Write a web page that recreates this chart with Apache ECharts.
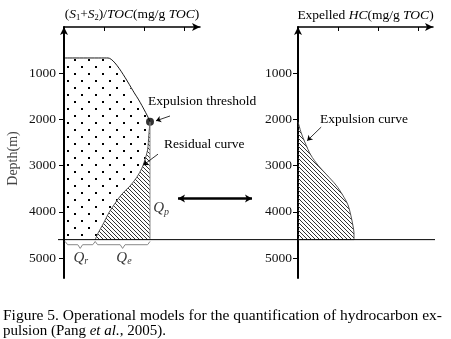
<!DOCTYPE html>
<html>
<head>
<meta charset="utf-8">
<script src="https://cdn.jsdelivr.net/npm/echarts@6/dist/echarts.min.js"></script>
<style>
  html, body { margin: 0; padding: 0; background: #fff; }
  #chart { width: 451px; height: 339px; }
</style>
</head>
<body>
<div id="chart"></div>
<script>
// tick positions
const depthTicks = [1000, 2000, 3000, 4000, 5000];
const hcTicks = [1, 2, 3];
const depthMax = 5430;
const baseDepth = 4600;

// original potential, upper outline (x, depth)
const genX = [0, 1.1, 1.82, 1.98, 2.1, 2.15];
const genDepth = [670, 670, 1510, 1750, 1950, 2050];

// residual curve, from threshold down to base
const resX = [2.15, 2.12, 2.09, 2.02, 1.95, 1.82, 1.65, 1.45, 1.28, 1.12, 0.98, 0.85, 0.78];
const resDepth = [2050, 2340, 2660, 2880, 3050, 3250, 3440, 3610, 3810, 4020, 4260, 4460, 4600];

// expelled hydrocarbon curve (right panel)
const expX = [0, 0.08, 0.18, 0.32, 0.5, 0.72, 0.95, 1.12, 1.25, 1.32, 1.37, 1.4, 1.4];
const expDepth = [2050, 2290, 2510, 2770, 2990, 3200, 3420, 3640, 3850, 4070, 4280, 4460, 4600];

const zip = (xs, ys) => xs.map((x, i) => [x, ys[i]]);
const gen = zip(genX, genDepth);
const res = zip(resX, resDepth);
const exp = zip(expX, expDepth);
const threshold = gen[gen.length - 1];
const edgeX = threshold[0];
const resBottomX = resX[resX.length - 1];

const serif = '"Liberation Serif", "DejaVu Serif", serif';

// fill patterns
function dotPattern() {
  const c = document.createElement('canvas');
  c.width = 14; c.height = 14;
  const g = c.getContext('2d');
  g.fillStyle = '#000';
  g.fillRect(4, 3, 2, 2);
  g.fillRect(11, 10, 2, 2);
  return { image: c, repeat: 'repeat' };
}
function hatchPattern() {
  const s = 8;
  const c = document.createElement('canvas');
  c.width = s; c.height = s;
  const g = c.getContext('2d');
  g.strokeStyle = '#333';
  g.lineWidth = 1;
  for (let k = -s; k <= s; k += 4) {
    g.beginPath();
    g.moveTo(k - 1, -1);
    g.lineTo(k + s + 1, s + 1);
    g.stroke();
  }
  return { image: c, repeat: 'repeat' };
}

function polygon(idx, pts, fill) {
  return {
    type: 'custom', xAxisIndex: idx, yAxisIndex: idx, silent: true, data: [0],
    renderItem: (params, api) => ({
      type: 'polygon',
      shape: { points: pts.map(p => api.coord(p)) },
      style: { fill: fill, stroke: 'none' }
    })
  };
}

function line(idx, data, color, width, smooth) {
  return {
    type: 'line', xAxisIndex: idx, yAxisIndex: idx, data: data, silent: true,
    symbol: 'none', smooth: smooth || false,
    lineStyle: { color: color, width: width }
  };
}

function brace(a, b) {
  const m = (a + b) / 2;
  return [[a, 4640], [a + 0.06, 4710], [m - 0.06, 4710], [m, 4790], [m + 0.06, 4710], [b - 0.06, 4710], [b, 4640]];
}

function qLabel(pos, sub) {
  return {
    value: pos,
    label: {
      show: true, position: 'inside',
      formatter: '{q|Q}{s|' + sub + '}',
      rich: {
        q: { fontFamily: serif, fontStyle: 'italic', fontSize: 15, color: '#000' },
        s: { fontFamily: serif, fontStyle: 'italic', fontSize: 10, color: '#000', padding: [8, 0, 0, 0] }
      }
    }
  };
}

const chart = echarts.init(document.getElementById('chart'), null, { renderer: 'canvas' });

const arrowLine = { color: '#000', width: 0.8 };

const xAxisCommon = {
  type: 'value', position: 'top', min: 0, interval: 1,
  axisLine: { show: true, onZero: false, lineStyle: { color: '#000', width: 1.5 }, symbol: ['none', 'arrow'], symbolSize: [6, 8] },
  axisTick: { show: true, inside: true, length: 4, customValues: hcTicks, lineStyle: { color: '#000' } },
  axisLabel: { show: false },
  splitLine: { show: false },
  nameLocation: 'middle', nameGap: 5,
  nameTextStyle: {
    rich: {
      r: { fontFamily: serif, fontSize: 13.5, color: '#000' },
      i: { fontFamily: serif, fontSize: 13.5, fontStyle: 'italic', color: '#000' },
      b: { fontFamily: serif, fontSize: 8.5, color: '#000', padding: [7, 0, 0, 0] }
    }
  }
};
const yAxisCommon = {
  type: 'value', inverse: true, min: 0, max: depthMax,
  axisLine: { show: true, onZero: false, lineStyle: { color: '#000', width: 2 }, symbol: ['none', 'arrow'], symbolSize: [6, 8] },
  axisTick: { show: true, length: 5, customValues: depthTicks, lineStyle: { color: '#000' } },
  axisLabel: {
    customValues: depthTicks, fontFamily: serif, fontSize: 13.5, color: '#111', margin: 8,
    formatter: v => String(v)
  },
  splitLine: { show: false }
};

chart.setOption({
  animation: false,
  backgroundColor: '#fff',
  grid: [
    { left: 64, top: 27, width: 136, height: 251 },
    { left: 298, top: 27, width: 135, height: 251 },
    { left: 58, top: 27, width: 377, height: 251 }
  ],
  xAxis: [
    Object.assign({}, xAxisCommon, {
      gridIndex: 0, max: 3.4,
      name: '{r|(}{i|S}{b|1}{r|+}{i|S}{b|2}{r|)/}{i|TOC}{r|(mg/g }{i|TOC}{r|)}'
    }),
    Object.assign({}, xAxisCommon, {
      gridIndex: 1, max: 3.375,
      name: '{r|Expelled }{i|HC}{r|(mg/g }{i|TOC}{r|)}'
    }),
    { gridIndex: 2, type: 'value', min: -0.15, max: 9.275, show: false }
  ],
  yAxis: [
    Object.assign({}, yAxisCommon, {
      gridIndex: 0, name: 'Depth(m)', nameLocation: 'middle', nameGap: 44,
      nameTextStyle: { fontFamily: serif, fontSize: 14, color: '#444', padding: [0, 12, 0, 0] }
    }),
    Object.assign({}, yAxisCommon, { gridIndex: 1, axisLabel: Object.assign({}, yAxisCommon.axisLabel, { margin: 6 }) }),
    { gridIndex: 2, type: 'value', inverse: true, min: 0, max: depthMax, show: false }
  ],
  series: [
    // left panel: residual (dotted) and expelled (hatched) areas
    polygon(0, [[0, genDepth[0]]].concat(gen.slice(1), res.slice(1), [[0, baseDepth]]), dotPattern()),
    polygon(0, res.concat([[edgeX, baseDepth]]), hatchPattern()),
    line(0, gen, '#000', 0.9, 0.2),
    line(0, res, '#444', 0.9, 0.3),
    line(0, [threshold, [edgeX, baseDepth]], '#888', 1),
    {
      type: 'scatter', xAxisIndex: 0, yAxisIndex: 0, silent: true,
      data: [threshold], symbolSize: 8, itemStyle: { color: '#000' }
    },
    // braces
    line(0, brace(0.03, resBottomX), '#888', 1),
    line(0, brace(resBottomX, edgeX), '#888', 1),
    {
      type: 'scatter', xAxisIndex: 0, yAxisIndex: 0, silent: true, symbolSize: 0,
      data: [qLabel([0.42, 4990], 'r'), qLabel([1.5, 4990], 'e'), qLabel([2.43, 3920], 'p')]
    },
    // annotation arrows, left panel
    {
      type: 'line', xAxisIndex: 0, yAxisIndex: 0, data: [], silent: true,
      markLine: {
        silent: true, symbol: ['none', 'arrow'], symbolSize: 5, label: { show: false },
        lineStyle: Object.assign({ type: 'solid' }, arrowLine), emphasis: { disabled: true },
        data: [
          [{ coord: [2.65, 1925] }, { coord: [2.3, 2030] }],
          [{ coord: [2.35, 2750] }, { coord: [1.98, 2990] }]
        ]
      }
    },
    // right panel
    polygon(1, [[0, expDepth[0]]].concat(exp, [[0, baseDepth]]), hatchPattern()),
    line(1, exp, '#444', 0.9, 0.3),
    line(1, [[expX[expX.length - 1], baseDepth], [0, baseDepth]], '#888', 1),
    {
      type: 'line', xAxisIndex: 1, yAxisIndex: 1, data: [], silent: true,
      markLine: {
        silent: true, symbol: ['none', 'arrow'], symbolSize: 5, label: { show: false },
        lineStyle: Object.assign({ type: 'solid' }, arrowLine), emphasis: { disabled: true },
        data: [[{ coord: [0.58, 2165] }, { coord: [0.23, 2460] }]]
      }
    },
    // base line and double arrow across both panels
    line(2, [[-0.15, baseDepth], [9.275, baseDepth]], '#000', 1),
    {
      type: 'line', xAxisIndex: 2, yAxisIndex: 2, data: [], silent: true,
      markLine: {
        silent: true, symbol: ['arrow', 'arrow'], symbolSize: [6, 7], label: { show: false },
        lineStyle: { type: 'solid', color: '#000', width: 2.5 }, emphasis: { disabled: true },
        data: [[{ coord: [2.85, 3710] }, { coord: [4.7, 3710] }]]
      }
    }
  ],
  graphic: [
    { type: 'text', left: 148, top: 94, style: { text: 'Expulsion threshold', font: '13.5px ' + serif, fill: '#000' } },
    { type: 'text', left: 164, top: 137, style: { text: 'Residual curve', font: '13.5px ' + serif, fill: '#000' } },
    { type: 'text', left: 320, top: 112, style: { text: 'Expulsion curve', font: '13.5px ' + serif, fill: '#000' } },
    {
      type: 'text', left: 3, top: 308,
      style: {
        text: '{a|Figure 5. Operational models for the quantification of hydrocarbon ex-}\n{r|pulsion (Pang }{i|et al.}{r|, 2005).}',
        rich: {
          a: { fontFamily: serif, fontSize: 15.5, lineHeight: 15, fill: '#000' },
          r: { fontFamily: serif, fontSize: 15, lineHeight: 15, fill: '#000' },
          i: { fontFamily: serif, fontSize: 15, lineHeight: 15, fontStyle: 'italic', fill: '#000' }
        }
      }
    }
  ]
});
</script>
</body>
</html>
